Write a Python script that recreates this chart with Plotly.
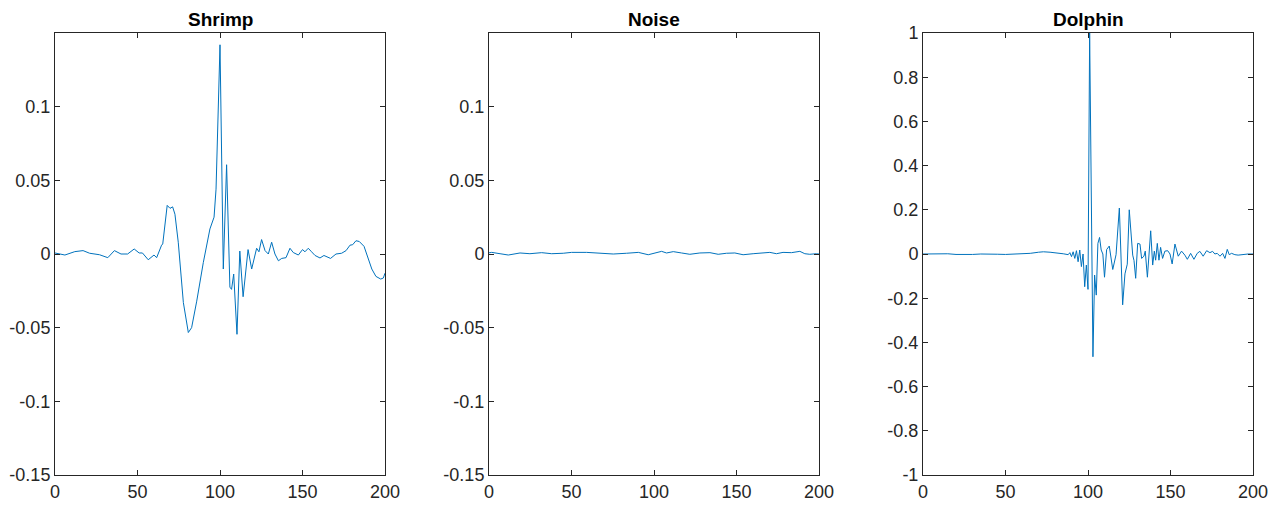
import plotly.graph_objects as go

# ---------------- data ----------------
shrimp_x = [0, 3, 6, 12, 17, 21, 27, 32, 36, 40, 44, 48, 51, 53, 56.5, 60, 61.6, 64.6, 65.3,
            68, 69.7, 71.3, 72.7, 74.7, 77.8, 80.8, 82.8, 85.9, 89.9, 93.9, 96.4, 97.6, 99,
            100, 102, 104, 106, 107, 108.3, 110.3, 112, 114, 117, 119.2, 122.2, 123.6, 125.2,
            127.3, 129.3, 131.3, 133.3, 135.4, 137.4, 140, 142.4, 144.4, 147.5, 150, 151.5,
            153.5, 155.5, 157.6, 160.6, 163, 167, 170.3, 173.7, 176.4, 178.8, 180.4, 182.4,
            184.4, 187.3, 189.3, 192, 194.5, 197.4, 199, 200]
shrimp_y = [0.0007, 0.0, -0.0007, 0.0016, 0.0023, 0.0005, -0.0005, -0.0025, 0.0023, 0.0, 0.0,
            0.0034, 0.0007, 0.0007, -0.0039, -0.0007, -0.0025, 0.006, 0.0068,
            0.033, 0.031, 0.032, 0.027, 0.008, -0.033, -0.0533, -0.05, -0.032, -0.0057, 0.017,
            0.025, 0.044, 0.0965,
            0.142, -0.0102, 0.0606, -0.0225, -0.024, -0.0136, -0.0545, 0.002, -0.029, 0.003,
            -0.0102, 0.0039, 0.0015, 0.0098,
            0.0023, 0.0, 0.008, 0.0, -0.0046, -0.003, -0.0025, 0.0039, 0.001, -0.0007, 0.003,
            0.0015, 0.0039, 0.0015, -0.001, -0.0027, -0.001, -0.003, 0.0, 0.0005, 0.0023, 0.006,
            0.0063, 0.009, 0.0085, 0.0052, -0.001, -0.0102, -0.0152, -0.017, -0.0163, -0.013]

noise_x = [0, 1.6, 6.7, 11.7, 18.8, 24.8, 31.9, 38, 45, 50, 59.2, 67.2, 75.3, 83.4, 90.5, 96.5,
           101.6, 104.6, 107.6, 111.7, 116.7, 121.7, 127.8, 133.9, 138.9, 143.9, 149, 154,
           160.1, 165.1, 170.2, 174.2, 178.2, 183.3, 188.4, 191.4, 194.4, 198.5, 200]
noise_y = [0.0008, 0.0011, 0.0002, -0.0007, 0.0007, 0.0002, 0.0009, 0.0002, 0.0005, 0.0011,
           0.0011, 0.0005, 0.0, 0.0005, 0.0011, -0.0005, 0.0007, 0.0018, 0.0007, 0.0016,
           0.0007, -0.0002, 0.0007, 0.0009, -0.0002, 0.0005, 0.0007, -0.0005, 0.0002, 0.0007,
           0.0011, 0.0002, 0.0011, 0.0009, 0.0018, 0.0002, -0.0002, 0.0002, 0.0]

dolphin_x = [0, 5, 10, 15, 20, 25, 30, 35, 40, 45, 50, 55, 60, 65, 70, 73, 77, 81, 85, 88, 89,
             90, 91, 92, 93, 94, 95, 96, 97, 98, 99, 100, 101, 103, 104, 105, 106, 107, 108,
             109, 110, 111.3, 112.9, 115, 117, 119, 121, 122.4, 123.8, 125, 127.1, 127.9,
             128.9, 130.1, 131.5, 132.5, 133.9, 134.7, 136, 138, 139.2, 140.2, 141, 142, 143,
             144, 145.2, 146.6, 148.3, 149.7, 151, 152.7, 154.7, 156.7, 158.7, 160.2, 162.2,
             164.2, 166.2, 167.8, 169.8, 171.9, 173.9, 175.5, 176.9, 178.3, 180, 181.6, 183,
             184.4, 185.6, 187, 189, 191, 193, 195, 197, 200]
dolphin_y = [0.0, 0.001, 0.002, 0.001, -0.002, -0.003, -0.002, 0.0, 0.001, -0.001, -0.002,
             -0.001, 0.002, 0.003, 0.008, 0.01, 0.008, 0.006, 0.001, -0.003, 0.006,
             -0.012, 0.01, -0.02, 0.015, -0.035, 0.018, -0.057, 0.0, -0.148, -0.05, -0.16, 1.0,
             -0.465, -0.095, -0.186, 0.048, 0.075, 0.018,
             0.0, -0.105, 0.02, 0.036, -0.07, -0.003, 0.208, -0.23, -0.09, -0.046, 0.2, -0.005,
             -0.03, -0.11, 0.048, 0.045, -0.02, -0.01, 0.013, -0.105, 0.105, -0.05, 0.013,
             -0.028, 0.048, -0.028, 0.03, -0.02, 0.013, 0.015, 0.0, -0.045, 0.045, -0.01, 0.013,
             -0.005, -0.024, 0.003, -0.024, 0.003, 0.012, -0.01, 0.015, 0.006, 0.012, 0.0,
             0.003, -0.01, 0.003, -0.02, 0.021, -0.003, 0.003, -0.003, -0.005, -0.003, 0.0,
             0.0, 0.0]

titles = ["Shrimp", "Noise", "Dolphin"]
x_ticks = [0, 50, 100, 150, 200]
small_ticks = [-0.15, -0.1, -0.05, 0, 0.05, 0.1]
small_labels = ["-0.15", "-0.1", "-0.05", "0", "0.05", "0.1"]
big_ticks = [-1, -0.8, -0.6, -0.4, -0.2, 0, 0.2, 0.4, 0.6, 0.8, 1]
big_labels = ["-1", "-0.8", "-0.6", "-0.4", "-0.2", "0", "0.2", "0.4", "0.6", "0.8", "1"]

# ---------------- figure ----------------
W, H = 1276, 507
LINE = "#0072BD"
AX = "#262626"
FONT = "Liberation Sans, Arial, sans-serif"

fig = go.Figure()
series = [(shrimp_x, shrimp_y), (noise_x, noise_y), (dolphin_x, dolphin_y)]
for i, (xs, ys) in enumerate(series):
    fig.add_trace(go.Scatter(x=xs, y=ys, mode="lines",
                             line=dict(color=LINE, width=1),
                             xaxis="x" if i == 0 else f"x{i+1}",
                             yaxis="y" if i == 0 else f"y{i+1}",
                             showlegend=False, hoverinfo="skip"))

px_domains = [(55, 385), (489, 819), (923, 1253)]
ydom = [1 - 475 / H, 1 - 33 / H]

common = dict(showline=True, mirror="ticks", linecolor=AX, linewidth=1,
              ticks="inside", ticklen=5, tickcolor=AX, tickwidth=1,
              showgrid=False, zeroline=False, automargin=False,
              tickfont=dict(family=FONT, size=18, color=AX))

layout = dict(width=W, height=H, margin=dict(l=0, r=0, t=0, b=0, autoexpand=False),
              paper_bgcolor="white", plot_bgcolor="white", showlegend=False)

for i, (a, b) in enumerate(px_domains):
    xs = "xaxis" if i == 0 else f"xaxis{i+1}"
    ys = "yaxis" if i == 0 else f"yaxis{i+1}"
    anchor_y = "y" if i == 0 else f"y{i+1}"
    anchor_x = "x" if i == 0 else f"x{i+1}"
    layout[xs] = dict(domain=[a / W, b / W], range=[0, 200], tickvals=x_ticks,
                      anchor=anchor_y, **common)
    if i < 2:
        layout[ys] = dict(domain=ydom, range=[-0.15, 0.15], tickvals=small_ticks,
                          ticktext=small_labels, anchor=anchor_x, **common)
    else:
        layout[ys] = dict(domain=ydom, range=[-1, 1], tickvals=big_ticks,
                          ticktext=big_labels, anchor=anchor_x, **common)

annotations = []
for i, (a, b) in enumerate(px_domains):
    annotations.append(dict(text=f"<b>{titles[i]}</b>", x=(a + b) / 2 / W, y=1 - 20 / H,
                            xref="paper", yref="paper", showarrow=False,
                            xanchor="center", yanchor="middle",
                            font=dict(family=FONT, size=19, color="black")))
layout["annotations"] = annotations

fig.update_layout(**layout)
fig.write_html("out.html")
